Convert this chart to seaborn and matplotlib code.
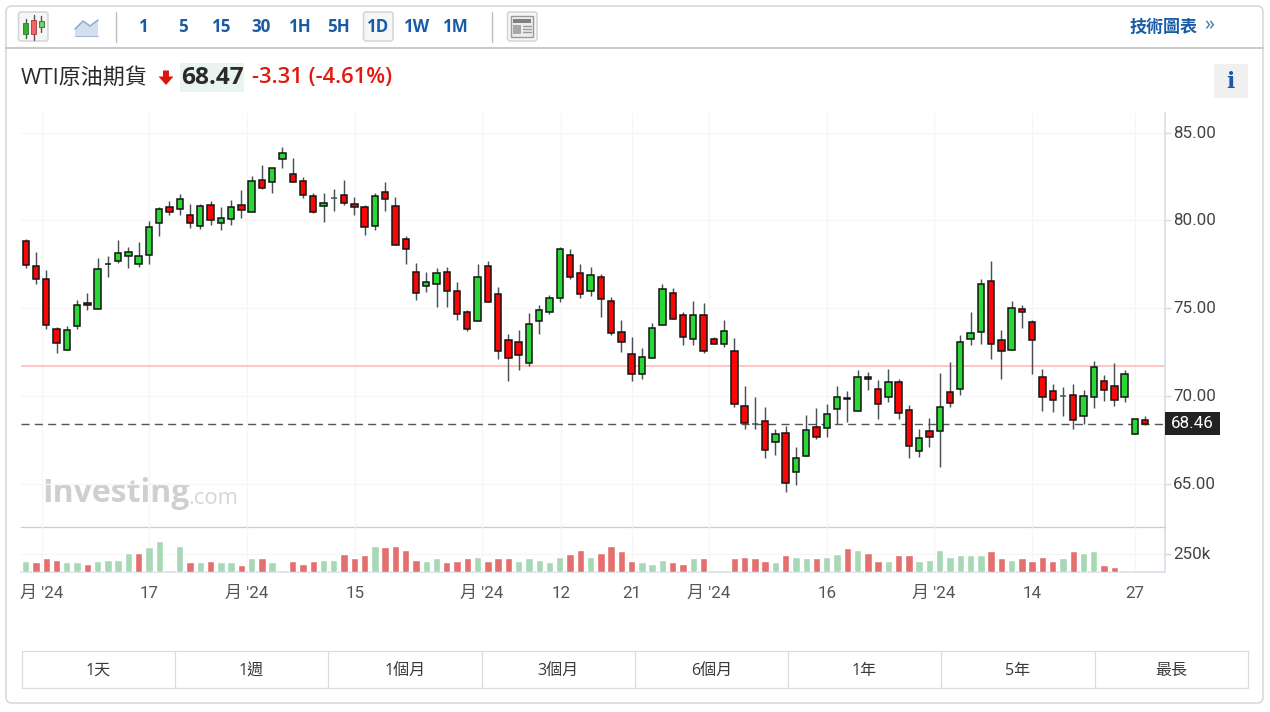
import matplotlib
matplotlib.use("Agg")
import matplotlib.pyplot as plt
from matplotlib.patches import FancyBboxPatch, Rectangle, Polygon
from matplotlib.transforms import blended_transform_factory, ScaledTranslation
import numpy as np
import pandas as pd
import seaborn as sns

# ---------- data ----------
opens = [78.84,77.42,76.70,73.84,72.64,73.99,75.33,74.95,77.55,77.72,77.96,77.55,78.04,79.86,80.75,80.65,80.33,79.71,80.90,79.86,
         80.10,80.90,80.50,82.32,82.17,83.51,82.66,82.26,81.37,80.80,81.30,81.47,80.92,80.75,79.71,81.62,80.82,78.93,77.09,76.30,
         76.37,77.09,75.98,74.78,74.31,77.40,75.80,73.19,73.12,71.92,74.31,74.78,75.58,78.04,77.00,75.98,76.77,75.43,73.68,72.40,
         71.28,72.17,74.06,75.90,74.61,73.29,74.61,73.29,72.97,72.57,69.46,68.44,68.59,67.40,67.95,65.73,66.62,68.29,68.19,69.31,
         69.88,69.16,71.13,70.43,69.95,70.81,69.21,66.92,68.04,68.04,70.28,70.41,73.29,73.68,76.54,73.19,72.64,74.95,74.23,71.13,
         70.33,70.03,70.10,68.91,69.95,70.90,70.58,69.95,67.89,68.68]
closes = [77.49,76.70,74.08,73.02,73.76,75.18,75.18,77.26,77.51,78.13,78.21,77.96,79.63,80.67,80.50,81.22,79.86,80.82,80.01,80.12,
          80.75,80.58,82.26,81.85,82.96,83.84,82.17,81.47,80.50,80.98,81.30,80.98,80.75,79.61,81.37,81.20,78.59,78.36,75.90,76.52,
          77.00,75.98,74.71,73.82,76.77,75.35,72.57,72.17,72.34,74.14,74.93,75.58,78.36,76.77,75.80,76.92,75.52,73.59,73.12,71.28,
          72.25,73.91,76.13,74.39,73.36,74.61,72.57,72.97,73.74,69.56,68.51,68.44,66.94,67.89,65.11,66.53,68.12,67.72,68.99,69.95,
          69.92,71.13,70.98,69.56,70.82,69.08,67.17,67.62,67.72,69.38,69.61,73.12,73.59,76.37,72.96,72.57,75.01,74.80,73.19,69.95,
          69.78,70.03,68.67,70.01,71.70,70.35,69.78,71.30,68.74,68.42]
highs = [78.93,78.23,77.19,73.93,74.03,75.46,75.86,77.85,77.98,78.87,78.48,78.78,79.97,80.75,81.11,81.51,80.94,80.92,81.11,80.75,
         81.17,81.73,82.51,83.15,82.96,84.20,83.55,82.45,81.54,81.54,81.79,82.30,81.32,80.86,81.54,82.19,81.32,79.12,77.59,77.06,
         77.28,77.34,76.49,74.90,77.53,77.70,76.24,73.55,73.78,74.73,75.20,75.75,78.48,78.36,77.53,77.34,76.94,75.67,74.35,73.36,
         72.74,74.16,76.39,76.15,74.78,75.45,75.29,73.36,74.35,73.31,70.60,69.97,69.42,68.15,68.33,67.11,68.93,69.35,69.56,70.60,
         70.29,71.51,71.39,70.94,71.56,70.98,69.52,68.15,68.76,71.32,71.96,73.48,74.82,76.66,77.68,73.78,75.45,75.22,74.33,71.54,
         70.69,70.54,70.69,70.37,72.04,71.24,71.88,71.49,68.74,68.87]
lows = [77.32,76.37,73.82,72.45,72.64,73.82,74.92,74.95,76.81,77.57,77.32,77.38,77.55,79.12,80.33,80.33,79.59,79.52,79.76,79.44,
        79.76,80.16,80.50,81.81,81.58,83.00,82.17,81.26,80.41,79.93,80.56,80.86,80.33,79.20,79.44,80.56,78.59,77.53,75.48,75.96,
        75.07,75.07,74.37,73.74,74.31,75.35,72.15,70.86,71.51,71.75,73.57,74.67,75.39,76.66,75.62,75.71,74.54,73.48,72.55,70.88,
        71.01,72.17,74.06,74.39,72.95,72.95,72.45,72.97,72.83,69.39,68.17,68.17,66.51,66.66,64.59,64.99,66.62,67.61,67.70,68.44,
        68.55,69.16,70.37,68.74,69.67,68.74,66.49,66.58,67.15,66.01,69.42,70.07,72.95,73.00,72.15,71.01,72.64,73.87,71.26,69.20,
        69.12,68.89,68.15,68.44,69.37,69.76,69.44,69.67,67.89,68.36]
volumes = [153,134,194,171,134,134,111,153,171,171,269,269,347,426,0,366,134,134,153,134,
           134,93,194,194,134,0,153,111,153,171,171,250,194,232,366,347,366,306,171,153,
           194,134,153,194,208,153,194,194,153,194,171,134,208,250,306,208,269,366,292,153,
           134,111,171,134,111,194,194,0,0,194,208,194,153,134,232,208,194,194,208,250,
           329,306,269,153,153,232,232,153,171,306,208,232,232,232,292,194,171,194,153,208,
           153,194,292,269,292,93,74,0,0,0]
# sessions (1-based) whose volume bar is green in the picture
vol_green = [1,5,6,8,9,10,11,13,14,16,18,20,21,23,25,26,30,31,35,40,41,45,49,50,51,52,53,56,61,62,63,66,74,76,77,79,80,82,85,88,89,90,91,92,93,94,97,102,104,105]
volume_dirs = ["G" if (i + 1) in vol_green else "R" for i in range(len(volumes))]

price_ticks = [65, 70, 75, 80, 85]
reference_price = 71.73
last_price = 68.46
month_positions = [1.56, 11.98, 21.52, 32.06, 44.43, 52.1, 59.0, 66.5, 78.05, 88.44, 98.0, 107.97]
date_labels = ["月 '24", "17", "月 '24", "15", "月 '24", "12", "21", "月 '24", "16", "月 '24", "14", "27"]
intervals = ["1", "5", "15", "30", "1H", "5H", "1D", "1W", "1M"]
ranges = ["1天", "1週", "1個月", "3個月", "6個月", "1年", "5年", "最長"]

# ---------- style ----------
sns.set_theme(style="white")
UI = ["Open Sans", "Noto Sans CJK TC", "DejaVu Sans"]
NUM = ["Roboto", "Noto Sans CJK TC", "DejaVu Sans"]
plt.rcParams["font.family"] = UI
BLUE = "#1a5ba6"
GREEN = "#29d836"
RED = "#fb0606"
WICK = "#4a5056"
AXFS = 17 * .72

W, H = 1270, 712
fig = plt.figure(figsize=(W / 100, H / 100), dpi=100, facecolor="white")

# ---------- page furniture, in pixel coordinates ----------
bg = fig.add_axes([0, 0, 1, 1], zorder=0)
bg.set_xlim(0, W); bg.set_ylim(H, 0); bg.axis("off")
bg.add_patch(FancyBboxPatch((6, 6), 1257, 697, boxstyle="round,pad=0,rounding_size=6",
                            fc="white", ec="#dcdcdc", lw=1.3))
bg.plot([6, 1263], [48, 48], color="#b9b9b9", lw=1.1)
for sx in (116, 492):
    bg.plot([sx, sx], [12, 42], color="#bdbdbd", lw=1)

def btn(x0, x1, y0=12, y1=41):
    bg.add_patch(FancyBboxPatch((x0, y0), x1 - x0, y1 - y0, boxstyle="round,pad=0,rounding_size=2.5",
                                fc="#f6f6f6", ec="#d4d4d4", lw=1.1))
btn(18.5, 48)
for cx, t, b, hi, lo, c in [(25.5, 23, 34, 19, 38, "#2fb32f"), (33.5, 20, 34, 15, 40, "#ee6666"), (41, 21, 27, 16, 32, "#6fcf6f")]:
    bg.plot([cx, cx], [hi, lo], color="#555555", lw=1)
    bg.add_patch(Rectangle((cx - 2.5, t), 5, b - t, fc=c, ec="#3f7f3f" if c != "#ee6666" else "#b84444", lw=.7, zorder=3))
bg.add_patch(Polygon([[75, 36], [75, 29], [83, 21], [90, 26], [98, 20], [98, 36]], fc="#d3deef", ec="none"))
bg.plot([75, 83, 90, 98], [29, 21, 26, 20], color="#8fa9d4", lw=1.1)
bg.plot([75, 98], [36, 36], color="#a6b9da", lw=.8)
btn(363.5, 393)
for s, x in zip(intervals, [144, 183, 222, 261, 300, 339, 378, 417, 456]):
    bg.text(x, 26.5, s, color=BLUE, fontsize=17 * .72, fontweight="bold", ha="center", va="center")
btn(507.5, 537)
bg.add_patch(Rectangle((511, 16), 22, 21, fc="#ededed", ec="#9a9a9a", lw=1))
bg.add_patch(Rectangle((513, 19), 18, 4, fc="#808080", ec="none"))
bg.add_patch(Rectangle((513, 25), 8, 9, fc="#a8a8a8", ec="none"))
for yy in (26, 29, 32):
    bg.plot([523, 531], [yy, yy], color="#9a9a9a", lw=1)
bg.text(1130, 26.5, "技術圖表", color=BLUE, fontsize=17 * .72, fontweight="bold", ha="left", va="center")
bg.text(1209, 25, "»", color="#3f77b8", fontsize=20 * .72, ha="center", va="center")

bg.text(21, 78, "WTI原油期貨", color="#2a2a2a", fontsize=22 * .72, ha="left", va="center")
bg.add_patch(Polygon([[163, 70.5], [169, 70.5], [169, 76.5], [173.5, 76.5], [166, 85], [158.5, 76.5], [163, 76.5]], fc="#d9160c", ec="none"))
bg.add_patch(Rectangle((180, 63), 64, 29, fc="#e9f4ee", ec="none"))
bg.text(212, 78.5, "68.47", color="#2a2a2a", fontsize=24.5 * .72, fontweight="bold", ha="center", va="center")
bg.text(252, 78, "-3.31 (-4.61%)", color="#e3180e", fontsize=22 * .72, fontweight="semibold", ha="left", va="center")
bg.add_patch(Rectangle((1213.5, 64), 34, 34, fc="#f0f0f0", ec="none"))
bg.text(1230, 82, "i", color=BLUE, fontsize=22 * .72, fontweight="bold", family="DejaVu Serif", ha="center", va="center")

bg.text(42, 494, "Investing", color="#cfcfcf", fontsize=32 * .72, fontweight="bold", ha="left", va="center", family="Open Sans")
bg.text(188, 498, ".com", color="#d6d6d6", fontsize=22 * .72, ha="left", va="center", family="Open Sans")

edges = [22, 175, 328, 481.5, 634.5, 788, 941, 1094.5, 1248]
bg.add_patch(Rectangle((22, 651), 1226, 37, fc="white", ec="#dcdcdc", lw=.9))
for e in edges[1:-1]:
    bg.plot([e, e], [651, 688], color="#dcdcdc", lw=.9)
for s, a, b in zip(ranges, edges[:-1], edges[1:]):
    bg.text((a + b) / 2, 670.5, s, color="#3a3a3a", fontsize=16 * .72, ha="center", va="center")

# ---------- axes ----------
def axes_px(x0, x1, y0, y1, **kw):
    return fig.add_axes([x0 / W, 1 - y1 / H, (x1 - x0) / W, (y1 - y0) / H], **kw)

ax = axes_px(21, 1165, 113, 527, zorder=2)
ax_v = axes_px(21, 1165, 527, 572, zorder=2)
for a in (ax, ax_v):
    a.patch.set_alpha(0)
    for s in ("left", "top"):
        a.spines[s].set_visible(False)
    a.spines["right"].set_color("#d6dae3")
    a.spines["right"].set_linewidth(1.1)
    a.yaxis.tick_right()
    a.grid(True, color="#f6f6f6", lw=1)
    a.set_axisbelow(True)
ax.spines["bottom"].set_color("#cccccc")
ax.spines["bottom"].set_linewidth(0.9)
ax_v.spines["bottom"].set_color("#dfe3ec")
ax_v.spines["bottom"].set_linewidth(1.4)

idx = np.arange(len(opens))
o, c, h, l = map(np.array, (opens, closes, highs, lows))

# reference lines
ax.axhline(reference_price, color="#ffc6c6", lw=1.5, zorder=1)
ax.plot([-0.46, 110.7], [last_price, last_price], color="#555555", lw=1,
        linestyle=(0, (5.8, 3.8)), zorder=1)

# candles
ax.vlines(idx, l, h, color=WICK, lw=1.05, zorder=2)
body_col = [GREEN if cl > op else RED for op, cl in zip(o, c)]
edge_col = [WICK if op == cl else "#141414" for op, cl in zip(o, c)]
ax.bar(idx, np.abs(c - o), bottom=np.minimum(o, c), width=0.62, color=body_col,
       edgecolor=edge_col, linewidth=1.1, zorder=3)

# volume
vol_df = pd.DataFrame({"i": idx, "v": volumes, "d": volume_dirs})
vol_df = vol_df[vol_df.v > 0]
sns.barplot(data=vol_df, x="i", y="v", hue="d", palette={"G": "#a8d8b5", "R": "#e46f6f"},
            native_scale=True, dodge=False, width=0.72, saturation=1, legend=False, ax=ax_v, zorder=3)

x0, x1 = (21 - 25.7) / 10.27, (1165 - 25.7) / 10.27
for a in (ax, ax_v):
    a.set_xlim(x0, x1)
    a.set_xticks(month_positions)
    a.set_xlabel(""); a.set_ylabel("")
ax.set_ylim(62.585, 86.108)
ax.set_yticks(price_ticks)
ax.set_yticklabels([f"{p:.2f}" for p in price_ticks])
ax.tick_params(axis="x", length=0, labelbottom=False)
ax_v.set_ylim(0, 625)
ax_v.set_yticks([250])
ax_v.set_yticklabels(["250k"])
ax_v.set_xticklabels(date_labels)
ax_v.tick_params(axis="x", length=6, width=1, color="#e3e6ee", pad=4, labelsize=AXFS, labelcolor="#555555")
up1 = ScaledTranslation(0, 1 / 100, fig.dpi_scale_trans)
for a in (ax, ax_v):
    a.tick_params(axis="y", right=True, length=4, width=1, color="#d6dae3", pad=2, labelsize=AXFS, labelcolor="#444444")
    for t in a.get_xticklabels() + a.get_yticklabels():
        t.set_family(NUM)
    for t in a.get_yticklabels():
        t.set_transform(t.get_transform() + up1)

# last price tag
tr = blended_transform_factory(ax.transAxes, ax.transData)
ax.add_patch(Rectangle((1.0, last_price - 0.65), 0.048, 1.3, transform=tr, fc="#222222", ec="none", clip_on=False, zorder=5))
ax.text(1.024, last_price - 0.02, f"{last_price:.2f}", transform=tr, color="white", fontsize=AXFS,
        family=NUM, ha="center", va="center", zorder=6)

fig.savefig("out.png", dpi=100, facecolor="white")
